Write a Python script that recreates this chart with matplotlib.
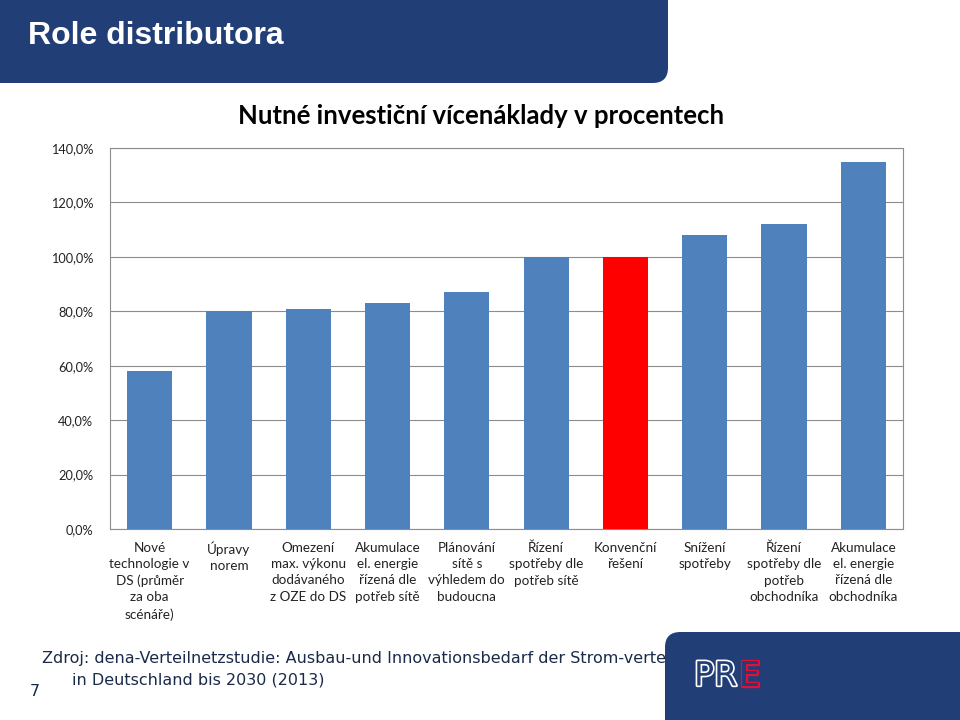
import matplotlib
matplotlib.use("Agg")
from matplotlib import pyplot as plt
from matplotlib.patches import FancyBboxPatch
from matplotlib.transforms import Bbox, TransformedBbox
import matplotlib.patheffects as pe
import numpy as np

# data
kategorie = [
    "Nové\ntechnologie v\nDS (průměr\nza oba\nscénáře)",
    "Úpravy\nnorem",
    "Omezení\nmax. výkonu\ndodávaného\nz OZE do DS",
    "Akumulace\nel. energie\nřízená dle\npotřeb sítě",
    "Plánování\nsítě s\nvýhledem do\nbudoucna",
    "Řízení\nspotřeby dle\npotřeb sítě",
    "Konvenční\nřešení",
    "Snížení\nspotřeby",
    "Řízení\nspotřeby dle\npotřeb\nobchodníka",
    "Akumulace\nel. energie\nřízená dle\nobchodníka",
]
hodnoty = [58, 80, 81, 83, 87, 100, 100, 108, 112, 135]
zvyrazneni = "Konvenční\nřešení"
y_ticks = [0, 20, 40, 60, 80, 100, 120, 140]
y_labels = ["0,0%", "20,0%", "40,0%", "60,0%", "80,0%", "100,0%", "120,0%", "140,0%"]

navy = "#213e77"
modra = "#4f81bd"

fig = plt.figure(figsize=(9.6, 7.2), dpi=100)

# horní pruh s nadpisem
fig.patches.append(FancyBboxPatch((-0.05, 1 - 83 / 720), 668 / 960 + 0.05, 0.2,
                                  boxstyle="round,pad=0,rounding_size=0.016",
                                  mutation_aspect=4 / 3, transform=fig.transFigure,
                                  facecolor=navy, edgecolor="none", zorder=1))
fig.text(28 / 960, 1 - 36 / 720, "Role distributora", color="white", fontsize=23,
         fontweight="bold", family=["Liberation Sans Narrow", "Liberation Sans"],
         va="center", ha="left")

# graf
ax = fig.add_axes([110 / 960, 1 - 529 / 720, 793 / 960, 381 / 720])
x = np.arange(len(kategorie))
barvy = ["#ff0000" if k == zvyrazneni else modra for k in kategorie]
ax.bar(x, hodnoty, width=0.57, color=barvy, zorder=3)
ax.set_xlim(-0.5, len(kategorie) - 0.5)
ax.set_ylim(0, 140)
ax.set_yticks(y_ticks)
ax.set_yticklabels(y_labels, fontsize=9.2, family="Lato", color="#222222")
ax.set_xticks(x)
ax.set_xticklabels(kategorie, fontsize=9.7, family="Lato", color="#222222",
                   linespacing=1.44, va="top")
ax.tick_params(length=0, pad=12)
ax.tick_params(axis="x", pad=9)
ax.grid(axis="y", color="#8c8c8c", linewidth=0.8, zorder=0)
for s in ax.spines.values():
    s.set_color("#8c8c8c")
    s.set_linewidth(0.8)

fig.text(481 / 960, 1 - 116 / 720, "Nutné investiční vícenáklady v procentech",
         fontsize=18.5, fontweight="bold", family="Lato", ha="center", va="center")

# zdroj (oříznutý boxem s logem jako v originále)
zdroj = fig.text(42 / 960, 1 - 658 / 720,
                 "Zdroj: dena-Verteilnetzstudie: Ausbau-und Innovationsbedarf der Strom-verteilnetze",
                 fontsize=11.5, family="DejaVu Sans", color="#1a2a4a", va="center", zorder=0)
zdroj.set_clip_box(TransformedBbox(Bbox([[0, 0], [666 / 960, 1]]), fig.transFigure))
zdroj.set_clip_on(True)
fig.text(72 / 960, 1 - 680 / 720, "in Deutschland bis 2030 (2013)",
         fontsize=11.5, family="DejaVu Sans", color="#1a2a4a", va="center")
fig.text(30 / 960, 1 - 692 / 720, "7", fontsize=11.5, family="DejaVu Sans",
         color="#1a2a4a", va="center")

# spodní box s logem
fig.patches.append(FancyBboxPatch((665 / 960, -0.05), 0.4, 0.05 + 88 / 720,
                                  boxstyle="round,pad=0,rounding_size=0.016",
                                  mutation_aspect=4 / 3, transform=fig.transFigure,
                                  facecolor=navy, edgecolor="none", zorder=5))
t = fig.text(694 / 960, 1 - 676 / 720, "PR", fontsize=24, family="DejaVu Sans",
             color=navy, va="center", ha="left", zorder=6)
t.set_path_effects([pe.Stroke(linewidth=2.4, foreground="white"), pe.Normal()])
t2 = fig.text(739 / 960, 1 - 676 / 720, "E", fontsize=24, family="DejaVu Sans",
              color=navy, va="center", ha="left", zorder=6)
t2.set_path_effects([pe.Stroke(linewidth=2.4, foreground="#e0103a"), pe.Normal()])

fig.savefig("out.png", dpi=100)
